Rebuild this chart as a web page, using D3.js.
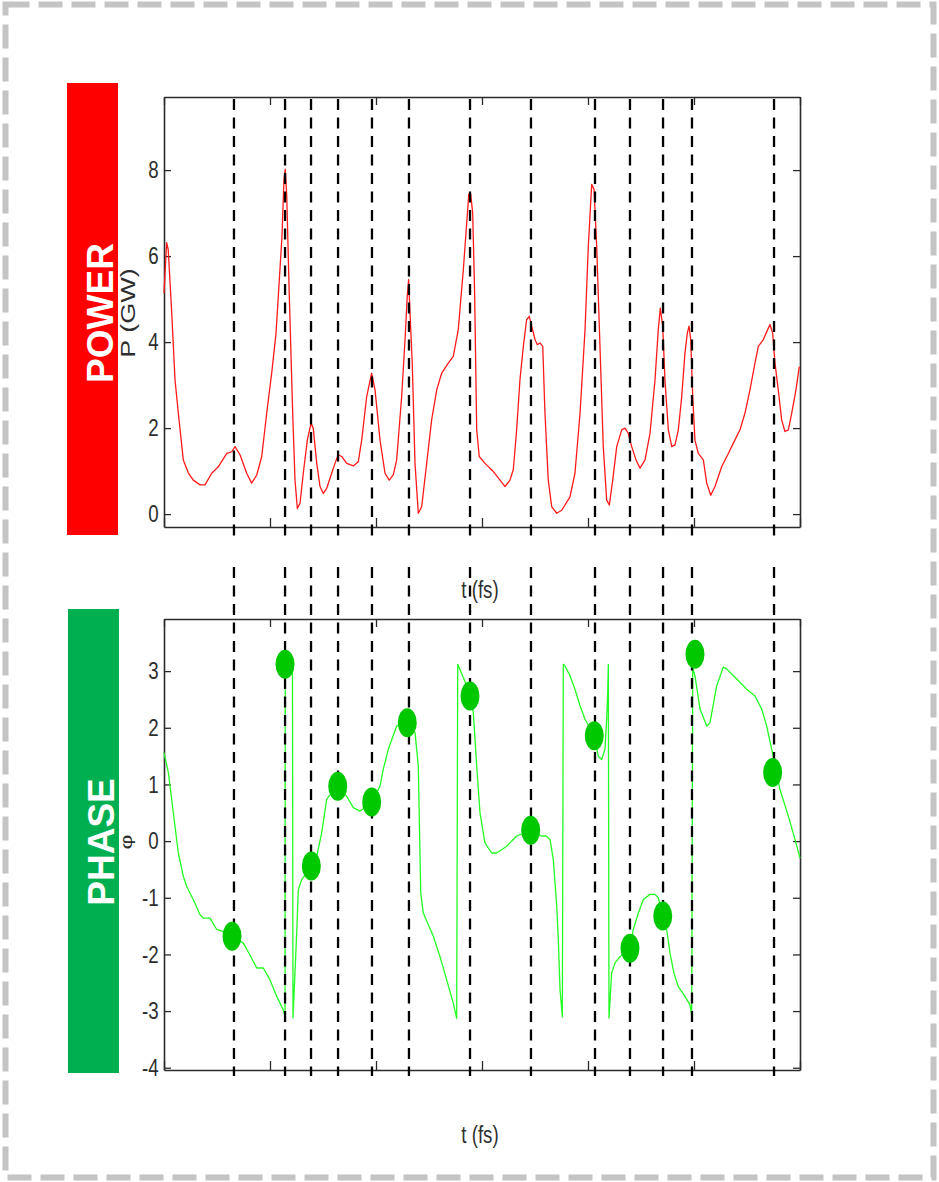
<!DOCTYPE html>
<html>
<head>
<meta charset="utf-8">
<script src="https://cdn.jsdelivr.net/npm/d3@7"></script>
<style>
  html, body { margin: 0; padding: 0; background: #fff; }
  svg { display: block; }
</style>
</head>
<body>
<script>
// ---- data -------------------------------------------------------------
// time axis (fs)
const xTicks = [0, 10, 20, 30, 40, 50, 60];
const powerTicks = [0, 2, 4, 6, 8];
const phaseTicks = [-4, -3, -2, -1, 0, 1, 2, 3];

// pulse power P(t) in GW
const powerT = [0.0,0.25,0.4,0.73,1.04,1.35,1.82,2.29,2.76,3.40,
  3.87,4.50,5.12,5.92,6.39,6.70,7.17,7.80,8.27,8.75,
  9.22,9.69,10.16,10.57,10.88,11.13,11.32,11.44,11.58,11.82,
  12.14,12.36,12.58,12.83,13.14,13.52,13.87,14.08,14.41,14.72,
  15.03,15.35,15.82,16.13,16.44,16.76,17.24,17.86,18.33,18.65,
  19.12,19.59,19.91,20.38,20.85,21.25,21.63,21.95,22.42,22.74,
  22.95,23.08,23.21,23.42,23.68,23.99,24.31,24.78,25.25,25.73,
  26.20,26.82,27.29,27.76,28.24,28.56,28.75,28.93,29.12,29.30,
  29.50,29.74,30.28,31.07,31.70,32.17,32.64,32.95,33.27,33.58,
  33.90,34.21,34.46,34.69,35.00,35.22,35.47,35.73,35.94,36.25,
  36.58,37.05,37.52,38.30,38.77,39.25,39.72,40.03,40.35,40.57,
  40.82,41.13,41.44,41.76,42.01,42.33,42.71,43.18,43.49,43.80,
  44.12,44.53,44.91,45.38,45.85,46.32,46.63,46.82,47.05,47.26,
  47.58,47.90,48.21,48.52,48.84,49.15,49.37,49.53,49.69,49.88,
  50.09,50.41,50.88,51.20,51.58,51.98,52.61,53.24,53.71,54.34,
  54.81,55.28,55.75,56.07,56.54,56.95,57.17,57.42,57.64,57.95,
  58.27,58.58,58.90,59.22,59.62,59.93];
const powerP = [5.14,6.31,6.15,4.68,3.12,2.35,1.26,0.96,0.79,0.68,
  0.68,0.95,1.10,1.41,1.45,1.57,1.38,0.95,0.72,0.91,
  1.34,2.35,3.28,4.21,5.45,6.46,7.79,8.02,7.40,5.07,
  2.35,0.79,0.13,0.25,0.95,1.72,2.11,2.00,1.18,0.64,
  0.48,0.60,0.95,1.18,1.38,1.34,1.18,1.12,1.22,1.72,
  2.73,3.28,2.89,1.72,0.95,0.79,0.91,1.26,2.73,4.06,
  5.07,5.45,4.68,3.51,1.18,0.02,0.17,1.18,2.19,2.89,
  3.28,3.51,3.67,4.29,5.69,6.78,7.44,7.44,7.01,5.20,
  1.96,1.34,1.18,0.99,0.79,0.64,0.79,1.03,1.96,3.12,
  3.90,4.52,4.60,4.37,4.06,3.94,3.98,3.90,2.35,0.79,
  0.17,0.02,0.09,0.40,0.95,2.35,4.29,6.23,7.67,7.55,
  6.23,3.90,1.57,0.33,0.21,0.79,1.57,1.96,2.00,1.88,
  1.57,1.26,1.07,1.26,1.88,3.12,4.29,4.79,4.37,3.12,
  1.96,1.57,1.61,1.96,2.73,3.75,4.21,4.37,4.06,2.73,
  1.72,1.41,1.26,0.72,0.44,0.64,1.10,1.41,1.65,1.96,
  2.35,2.89,3.51,3.90,4.06,4.29,4.41,4.21,3.51,2.89,
  2.19,1.92,1.96,2.35,2.89,3.43];

// wrapped spectral phase (rad)
const phaseT = [0.0,0.41,0.88,1.35,1.82,2.14,2.76,3.40,3.71,4.34,
  4.97,5.44,6.42,7.48,8.11,8.75,9.37,10.00,10.63,11.26,
  11.42,11.44,11.79,12.12,12.17,12.52,12.67,12.99,13.46,13.90,
  14.41,14.88,15.35,15.82,16.39,17.24,17.86,18.49,18.96,19.59,
  20.38,20.69,21.16,21.95,22.58,22.95,23.68,23.99,24.08,24.22,
  24.46,25.41,26.04,26.67,27.29,27.61,27.71,27.92,28.56,28.87,
  29.18,29.50,29.81,30.28,30.91,31.38,32.33,33.27,34.59,35.63,
  36.04,36.42,36.73,37.05,37.20,37.36,37.58,37.67,37.83,38.30,
  38.77,39.25,39.72,40.59,40.97,41.29,41.60,41.76,41.86,41.92,
  41.98,42.23,42.55,43.02,43.96,44.27,44.75,45.22,45.85,46.32,
  46.63,47.05,47.42,47.74,48.11,48.52,49.15,49.62,49.78,49.88,
  50.09,50.57,51.20,51.51,52.14,52.76,53.08,54.03,54.97,55.75,
  56.39,56.86,57.33,58.11,58.90,59.53,60.0];
const phaseV = [1.56,1.21,0.50,-0.21,-0.62,-0.80,-1.03,-1.30,-1.36,-1.36,
  -1.56,-1.59,-1.68,-1.80,-2.01,-2.24,-2.24,-2.45,-2.74,-2.98,
  -3.10,3.12,3.08,3.02,-3.12,-1.62,-0.86,-0.68,-0.56,-0.44,
  -0.27,0.15,0.74,0.85,0.97,0.79,0.59,0.53,0.59,0.69,
  0.97,1.27,1.62,2.03,2.09,2.09,1.92,1.33,0.44,-0.91,
  -1.27,-1.68,-2.04,-2.45,-2.86,-3.13,3.12,3.03,2.74,2.56,
  2.27,1.33,0.50,-0.03,-0.21,-0.21,-0.09,0.09,0.19,0.09,
  0.09,0.03,-0.33,-1.15,-1.74,-2.62,-3.10,3.12,3.09,2.92,
  2.68,2.39,2.15,1.86,1.50,1.44,1.62,2.15,2.62,3.12,
  -3.12,-2.33,-2.15,-2.04,-1.89,-1.56,-1.27,-1.03,-0.94,-0.94,
  -1.00,-1.32,-1.56,-1.98,-2.33,-2.57,-2.74,-2.89,-3.07,3.05,
  2.92,2.33,2.03,2.09,2.74,3.07,3.04,2.86,2.68,2.56,
  2.33,2.03,1.62,0.91,0.44,0.03,-0.30];

// instants of interest and the phase sampled there
const eventT = [6.60, 11.42, 13.87, 16.42, 19.62, 23.11, 28.87, 34.62, 40.66, 43.96, 47.08, 49.81, 57.55];
const markerT = [6.42, 11.42, 13.90, 16.39, 19.59, 22.95, 28.87, 34.59, 40.59, 43.96, 47.05, 50.09, 57.42];
const markerPhi = [-1.68, 3.12, -0.44, 0.97, 0.69, 2.09, 2.56, 0.19, 1.86, -1.89, -1.32, 3.30, 1.21];

// ---- layout -----------------------------------------------------------
const W = 939, H = 1182;
const svg = d3.select("body").append("svg").attr("width", W).attr("height", H);
svg.append("rect").attr("width", W).attr("height", H).attr("fill", "#fff");

// outer dashed frame
svg.append("rect")
  .attr("x", 5.5).attr("y", 4.5).attr("width", 928).attr("height", 1173)
  .attr("fill", "none").attr("stroke", "#c4c4c4").attr("stroke-width", 6)
  .attr("stroke-dasharray", "24,9");

const x = d3.scaleLinear().domain([0, 60]).range([164, 800]);
const yP = d3.scaleLinear().domain([-0.3, 9.7]).range([527, 97]);
const yF = d3.scaleLinear().domain([-4.04, 3.92]).range([1070, 619]);

const axisColor = "#2b2b2b";
const tickFont = "'Liberation Sans', Arial, sans-serif";
const squeeze = 0.78;

function frame(y, yTicks) {
  const [x0, x1] = x.range();
  const [yb, yt] = y.range();
  const g = svg.append("g");
  const style = sel => {
    sel.select(".domain").attr("stroke", axisColor).attr("stroke-width", 1.6);
    sel.selectAll(".tick line").attr("stroke", axisColor).attr("stroke-width", 1.3);
  };
  g.append("g").attr("transform", `translate(0,${yb})`)
    .call(d3.axisBottom(x).tickValues(xTicks).tickSizeInner(-9).tickSizeOuter(0).tickFormat(""))
    .call(style);
  g.append("g").attr("transform", `translate(0,${yt})`)
    .call(d3.axisTop(x).tickValues(xTicks).tickSizeInner(-8).tickSizeOuter(0).tickFormat(""))
    .call(style);
  g.append("g").attr("transform", `translate(${x1},0)`)
    .call(d3.axisRight(y).tickValues(yTicks).tickSizeInner(-7).tickSizeOuter(0).tickFormat(""))
    .call(style);
  const left = g.append("g").attr("transform", `translate(${x0},0)`)
    .call(d3.axisLeft(y).tickValues(yTicks).tickSizeInner(-7).tickSizeOuter(0)
      .tickPadding(7).tickFormat(d => String(d)))
    .call(style)
    .attr("font-family", tickFont).attr("font-size", 24);
  left.selectAll(".tick text").attr("fill", "#2e2e2e").attr("transform", `scale(${squeeze},1)`);
  return g;
}

// ---- side tags ----------------------------------------------------------
svg.append("rect").attr("x", 67).attr("y", 83).attr("width", 51).attr("height", 452).attr("fill", "#ff0000");
svg.append("rect").attr("x", 68).attr("y", 609).attr("width", 51).attr("height", 464).attr("fill", "#00b050");
const tag = (label, cx, cy) => svg.append("text")
  .attr("transform", `translate(${cx},${cy}) rotate(-90)`)
  .attr("text-anchor", "middle").attr("dy", "0.36em")
  .attr("font-family", "'Liberation Sans', Arial, sans-serif")
  .attr("font-weight", "bold").attr("font-size", 37).attr("fill", "#fff")
  .text(label);
tag("POWER", 100, 313);
tag("PHASE", 101, 842);

// ---- axis titles --------------------------------------------------------
const title = (label, tr, size) => svg.append("text")
  .attr("transform", tr).attr("text-anchor", "middle")
  .attr("font-family", tickFont).attr("font-size", size).attr("fill", "#2e2e2e")
  .text(label);
title("P (GW)", "translate(135,313) rotate(-90) scale(1,0.75)", 27);
title("φ", "translate(132,842) rotate(-90) scale(1,0.75)", 23);
title("t (fs)", `translate(480,598) scale(${squeeze},1)`, 24);
title("t (fs)", `translate(480,1143) scale(${squeeze},1)`, 24);

// ---- frames -------------------------------------------------------------
frame(yP, powerTicks);
frame(yF, phaseTicks);

// ---- curves -------------------------------------------------------------
const powerLine = d3.line().x(d => x(d[0])).y(d => yP(d[1]));
svg.append("path")
  .datum(d3.zip(powerT, powerP))
  .attr("d", powerLine)
  .attr("fill", "none").attr("stroke", "#ff1a1a").attr("stroke-width", 1.3)
  .attr("stroke-linejoin", "round");

const phaseLine = d3.line().x(d => x(d[0])).y(d => yF(d[1]));
svg.append("path")
  .datum(d3.zip(phaseT, phaseV))
  .attr("d", phaseLine)
  .attr("fill", "none").attr("stroke", "#22ff22").attr("stroke-width", 1.3)
  .attr("stroke-linejoin", "round");

// ---- event markers (dashed verticals spanning both panels) ---------------
const dash = svg.append("g").attr("stroke", "#000").attr("stroke-width", 2.3)
  .attr("stroke-dasharray", "11,7.5");
dash.selectAll("line.top").data(eventT).join("line").attr("class", "top")
  .attr("x1", d => x(d)).attr("x2", d => x(d))
  .attr("y1", yP.range()[1] + 2).attr("y2", 536);
dash.selectAll("line.bot").data(eventT).join("line").attr("class", "bot")
  .attr("x1", d => x(d)).attr("x2", d => x(d))
  .attr("y1", 567).attr("y2", 1076);

// phase samples at the events
svg.append("g").selectAll("ellipse")
  .data(d3.zip(markerT, markerPhi))
  .join("ellipse")
  .attr("cx", d => x(d[0])).attr("cy", d => yF(d[1]))
  .attr("rx", 9.5).attr("ry", 14.5)
  .attr("fill", "#00c800");
</script>
</body>
</html>
